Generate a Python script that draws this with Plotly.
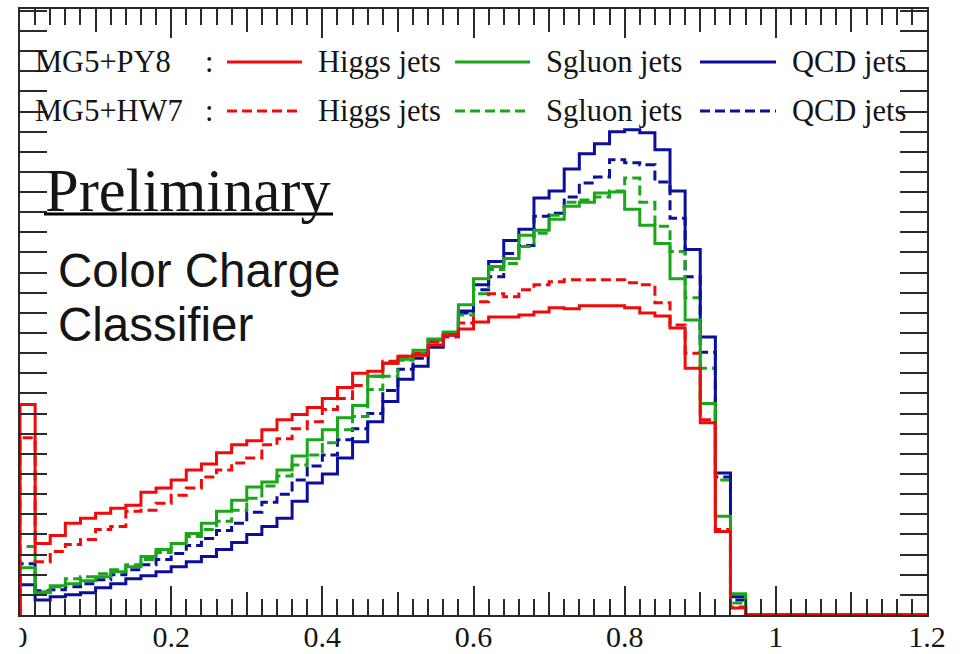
import plotly.graph_objects as go

# Bin layout: 60 bins of width 0.02 on [0, 1.2]
bin_width = 0.02
n_bins = 60
edges = [round(i * bin_width, 4) for i in range(n_bins + 1)]

# Normalised classifier-output distributions (first 48 bins; the rest are empty)
py8_higgs = [2.09, 0.71, 0.79, 0.91, 0.96, 1.01, 1.06, 1.09, 1.22, 1.26, 1.34, 1.44,
             1.50, 1.61, 1.69, 1.73, 1.84, 1.94, 1.99, 2.06, 2.15, 2.26, 2.40, 2.42,
             2.50, 2.57, 2.58, 2.68, 2.78, 2.84, 2.91, 2.96, 2.96, 2.98, 3.01, 3.05,
             3.04, 3.07, 3.07, 3.07, 3.05, 3.00, 2.97, 2.85, 2.45, 1.91, 0.83, 0.07]
hw7_higgs = [1.76, 0.53, 0.63, 0.70, 0.75, 0.85, 0.88, 1.03, 1.04, 1.11, 1.19, 1.26,
             1.37, 1.44, 1.51, 1.56, 1.69, 1.75, 1.85, 1.92, 2.04, 2.15, 2.28, 2.37,
             2.52, 2.57, 2.60, 2.71, 2.76, 2.90, 3.11, 3.19, 3.16, 3.23, 3.28, 3.31,
             3.33, 3.33, 3.33, 3.33, 3.30, 3.28, 3.10, 2.88, 2.60, 1.94, 0.85, 0.08]
py8_sgluon = [0.47, 0.22, 0.29, 0.31, 0.34, 0.38, 0.43, 0.48, 0.58, 0.65, 0.71, 0.81,
              0.91, 1.03, 1.14, 1.27, 1.32, 1.44, 1.58, 1.74, 1.84, 1.96, 2.08, 2.37,
              2.50, 2.54, 2.63, 2.74, 2.81, 3.08, 3.34, 3.46, 3.54, 3.77, 3.82, 3.93,
              4.06, 4.10, 4.19, 4.20, 4.03, 3.87, 3.69, 3.34, 2.93, 2.10, 0.98, 0.21]
hw7_sgluon = [0.68, 0.23, 0.28, 0.36, 0.38, 0.41, 0.45, 0.50, 0.55, 0.62, 0.71, 0.78,
              0.85, 0.93, 1.04, 1.16, 1.28, 1.38, 1.49, 1.59, 1.71, 1.84, 1.97, 2.24,
              2.37, 2.53, 2.60, 2.73, 2.78, 2.98, 3.19, 3.43, 3.49, 3.66, 3.79, 3.97,
              4.10, 4.12, 4.15, 4.21, 4.34, 4.10, 3.86, 3.61, 3.15, 2.45, 1.34, 0.12]
py8_qcd = [0.30, 0.15, 0.18, 0.20, 0.22, 0.27, 0.31, 0.36, 0.39, 0.43, 0.48, 0.53,
           0.58, 0.65, 0.72, 0.80, 0.88, 0.96, 1.13, 1.31, 1.40, 1.56, 1.72, 1.92,
           2.12, 2.34, 2.47, 2.66, 2.78, 3.02, 3.28, 3.51, 3.72, 3.83, 4.14, 4.21,
           4.43, 4.58, 4.68, 4.80, 4.82, 4.79, 4.62, 4.21, 3.63, 2.76, 1.41, 0.18]
hw7_qcd = [0.51, 0.24, 0.25, 0.28, 0.31, 0.35, 0.40, 0.45, 0.50, 0.55, 0.61, 0.69,
           0.76, 0.84, 0.91, 1.02, 1.12, 1.20, 1.34, 1.48, 1.59, 1.74, 1.85, 2.00,
           2.23, 2.44, 2.55, 2.73, 2.80, 3.00, 3.23, 3.36, 3.59, 3.67, 3.96, 3.99,
           4.15, 4.29, 4.35, 4.52, 4.49, 4.47, 4.30, 3.94, 3.36, 2.61, 1.37, 0.15]

x_tick_vals = [0, 0.2, 0.4, 0.6, 0.8, 1.0, 1.2]
x_tick_text = ["0", "0.2", "0.4", "0.6", "0.8", "1", "1.2"]
mid_tick_vals = [0.1, 0.3, 0.5, 0.7, 0.9, 1.1]

RED = "#f20a0a"
GREEN = "#1aa81a"
BLUE = "#0b0f9c"
DASH = "10px,5px"
LW = 3

series = [
    (hw7_qcd, BLUE, DASH),
    (hw7_sgluon, GREEN, DASH),
    (hw7_higgs, RED, DASH),
    (py8_qcd, BLUE, "solid"),
    (py8_sgluon, GREEN, "solid"),
    (py8_higgs, RED, "solid"),
]


def pad(vals):
    return list(vals) + [0.0] * (n_bins - len(vals))


fig = go.Figure()
for vals, color, dash in series:
    v = pad(vals)
    # step outline: rises from zero at the left edge, runs out to 1.2
    xs = [0.0] + edges
    ys = [0.0] + v + [v[-1]]
    fig.add_trace(go.Scatter(
        x=xs, y=ys, mode="lines", line_shape="hv",
        line=dict(color=color, width=LW, dash=dash),
        showlegend=False, hoverinfo="skip",
    ))

# empty trace that carries the secondary tick axis (0.1 ticks)
fig.add_trace(go.Scatter(x=[], y=[], xaxis="x2", showlegend=False, hoverinfo="skip"))

# page geometry (pixels)
W, H = 961, 654
L, R, T, B = 20, 34, 9, 39
PW, PH = W - L - R, H - T - B


def xp(px):
    return (px - L) / PW


def yp(py):
    return (H - B - py) / PH


serif = "Liberation Serif"
sans = "Liberation Sans"
TXT = "#151515"

annotations = []
shapes = []


def text(px, py, s, size, family=serif, anchor="left"):
    annotations.append(dict(
        x=xp(px), y=yp(py), xref="paper", yref="paper", text=s, showarrow=False,
        xanchor=anchor, yanchor="middle",
        font=dict(family=family, size=size, color=TXT),
    ))


def seg(x0, x1, py, color, dash="solid", width=LW):
    shapes.append(dict(
        type="line", xref="paper", yref="paper",
        x0=xp(x0), x1=xp(x1), y0=yp(py), y1=yp(py),
        line=dict(color=color, width=width, dash=dash),
    ))


# legend block
LEG = 30.5
for row_y, gen, dash in [(62, "MG5+PY8", "solid"), (111, "MG5+HW7", DASH)]:
    text(33, row_y, gen, LEG)
    text(203, row_y, ":", LEG)
    seg(227, 302, row_y, RED, dash)
    text(316, row_y, "Higgs jets", LEG)
    seg(455, 530, row_y, GREEN, dash)
    text(544, row_y, "Sgluon jets", LEG)
    seg(700, 776, row_y, BLUE, dash)
    text(790, row_y, "QCD jets", LEG)

# labels inside the frame
text(43, 191, "Preliminary", 60.5)
seg(44, 333, 214, "black", "solid", 3)
text(56, 270, "Color Charge", 47.5, sans)
text(56, 324, "Classifier", 47.5, sans)

# the left edge of the page trims the "0" tick label
shapes.append(dict(
    type="rect", xref="paper", yref="paper", layer="above",
    x0=xp(-5), x1=xp(19.5), y0=yp(621), y1=yp(660),
    line=dict(width=0), fillcolor="white",
))

AX = "#2a2a2a"
fig.update_layout(
    template="none",
    width=W, height=H,
    margin=dict(l=L, r=R, t=T, b=B, pad=0, autoexpand=False),
    paper_bgcolor="white", plot_bgcolor="white",
    showlegend=False,
    xaxis=dict(
        range=[0, 1.2], tickvals=x_tick_vals, ticktext=x_tick_text,
        ticks="inside", ticklen=29, tickwidth=1.5, tickcolor=AX,
        minor=dict(dtick=bin_width, tick0=0, ticks="inside", ticklen=16,
                   tickwidth=1.5, tickcolor=AX, showgrid=False),
        showline=True, linecolor=AX, linewidth=2, mirror="allticks",
        showgrid=False, zeroline=False, automargin=False,
        ticklabelstandoff=-6,
        tickfont=dict(family=serif, size=30, color=TXT),
    ),
    xaxis2=dict(
        range=[0, 1.2], overlaying="x", side="bottom", tickvals=mid_tick_vals,
        ticks="inside", ticklen=23, tickwidth=1.5, tickcolor=AX,
        showticklabels=False, showline=False, mirror="ticks",
        showgrid=False, zeroline=False, automargin=False,
    ),
    yaxis=dict(
        range=[0, PH / 100.7], dtick=1, tick0=0,
        ticks="inside", ticklen=27, tickwidth=1.5, tickcolor=AX,
        minor=dict(dtick=0.2, tick0=0, ticks="inside", ticklen=14,
                   tickwidth=1.5, tickcolor=AX, showgrid=False),
        showline=True, linecolor=AX, linewidth=2, mirror="allticks",
        showticklabels=False, showgrid=False, zeroline=False, automargin=False,
    ),
    annotations=annotations,
    shapes=shapes,
)

fig.write_html("out.html")
